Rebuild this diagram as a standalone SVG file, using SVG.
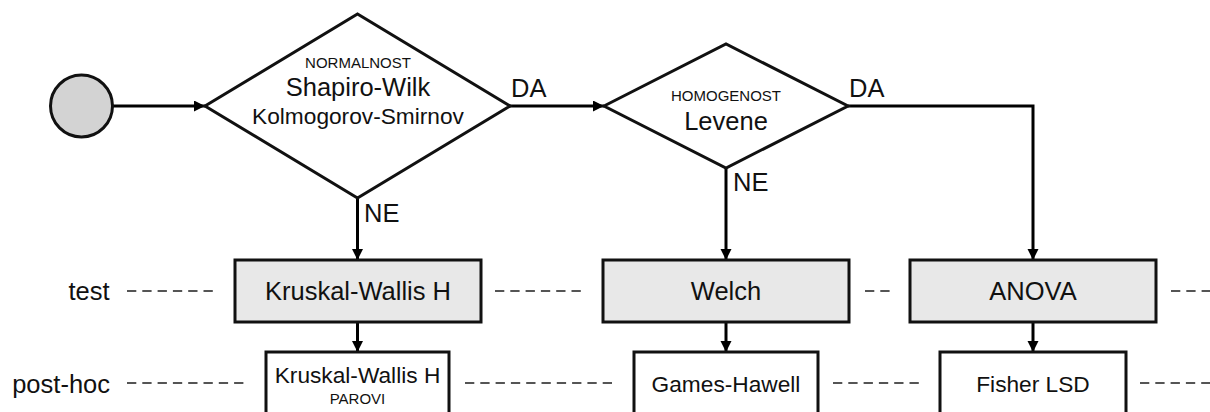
<svg xmlns="http://www.w3.org/2000/svg" width="1210" height="412" viewBox="0 0 1210 412">
<defs>
<marker id="arr" markerUnits="userSpaceOnUse" markerWidth="12" markerHeight="12" refX="11" refY="5.5" orient="auto">
<path d="M0,0 L11,5.5 L0,11 z" fill="#000"/>
</marker>
<style>
.shape{stroke:#111;stroke-width:3;stroke-linejoin:miter}
.test{fill:#e8e8e8}
.ph{fill:#fff}
.conn{fill:none;stroke:#000;stroke-width:3}
.dash{fill:none;stroke:#555;stroke-width:2;stroke-dasharray:9.3 6}
text{font-family:"Liberation Sans",Arial,sans-serif;fill:#111}
.big{font-size:25.5px}
.mid{font-size:22.7px}
.sm{font-size:15px}
.c{text-anchor:middle}
.r{text-anchor:end}
</style>
</defs>
<rect width="1210" height="412" fill="#fff"/>

<g id="guides">
<line class="dash" x1="127" y1="291" x2="213" y2="291"/>
<line class="dash" x1="495" y1="291" x2="581" y2="291"/>
<line class="dash" x1="865" y1="291" x2="890" y2="291"/>
<line class="dash" x1="1171" y1="291" x2="1215" y2="291"/>
<line class="dash" x1="127" y1="383" x2="244" y2="383"/>
<line class="dash" x1="465" y1="383" x2="612" y2="383"/>
<line class="dash" x1="833" y1="383" x2="919" y2="383"/>
<line class="dash" x1="1140" y1="383" x2="1215" y2="383"/>
<text class="big r" x="109.5" y="300">test</text>
<text class="big r" x="110" y="393">post-hoc</text>
</g>

<g id="connectors">
<line class="conn" x1="113" y1="106" x2="205" y2="106" marker-end="url(#arr)"/>
<line class="conn" x1="510" y1="106" x2="604" y2="106" marker-end="url(#arr)"/>
<path class="conn" d="M848,106 H1033 V260" marker-end="url(#arr)"/>
<line class="conn" x1="357.5" y1="198" x2="357.5" y2="260" marker-end="url(#arr)"/>
<line class="conn" x1="726" y1="168" x2="726" y2="260" marker-end="url(#arr)"/>
<line class="conn" x1="357.5" y1="322" x2="357.5" y2="352" marker-end="url(#arr)"/>
<line class="conn" x1="726" y1="322" x2="726" y2="352" marker-end="url(#arr)"/>
<line class="conn" x1="1033" y1="322" x2="1033" y2="352" marker-end="url(#arr)"/>
<text class="big" x="511" y="97">DA</text>
<text class="big" x="849" y="97">DA</text>
<text class="big" x="364" y="221.5">NE</text>
<text class="big" x="733" y="190.5">NE</text>
</g>

<g id="start">
<circle class="shape" cx="81.5" cy="106" r="31" fill="#d3d3d3"/>
</g>

<g id="normalnost">
<polygon class="shape" fill="#fff" points="205,106 357.5,14 510,106 357.5,198"/>
<text class="sm c" x="358" y="67.5">NORMALNOST</text>
<text class="big c" x="358" y="96">Shapiro-Wilk</text>
<text class="mid c" x="358" y="123.5">Kolmogorov-Smirnov</text>
</g>

<g id="homogenost">
<polygon class="shape" fill="#fff" points="604,106 726,44 848,106 726,168"/>
<text class="sm c" x="726" y="101">HOMOGENOST</text>
<text class="big c" x="726" y="130">Levene</text>
</g>

<g id="kruskal-test">
<rect class="shape test" x="235" y="260" width="246" height="62"/>
<text class="big c" x="358" y="300">Kruskal-Wallis H</text>
</g>

<g id="welch-test">
<rect class="shape test" x="603" y="260" width="246" height="62"/>
<text class="big c" x="726" y="300">Welch</text>
</g>

<g id="anova-test">
<rect class="shape test" x="910" y="260" width="246" height="62"/>
<text class="big c" x="1033" y="300">ANOVA</text>
</g>

<g id="kruskal-posthoc">
<rect class="shape ph" x="266" y="352" width="183" height="80"/>
<text class="mid c" x="357.5" y="382.7">Kruskal-Wallis H</text>
<text class="sm c" x="357.5" y="404">PAROVI</text>
</g>

<g id="games-howell">
<rect class="shape ph" x="634" y="352" width="184" height="80"/>
<text class="mid c" x="726" y="391.7">Games-Hawell</text>
</g>

<g id="fisher-lsd">
<rect class="shape ph" x="940" y="352" width="186" height="80"/>
<text class="mid c" x="1033" y="391.7">Fisher LSD</text>
</g>
</svg>
